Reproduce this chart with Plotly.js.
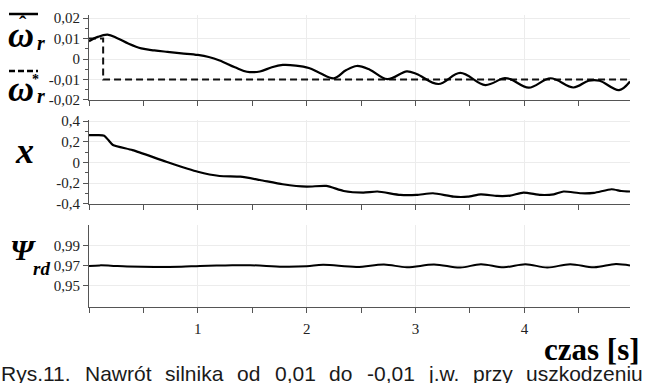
<!DOCTYPE html>
<html>
<head>
<meta charset="utf-8">
<script src="https://cdn.plot.ly/plotly-3.0.1.min.js"></script>
<style>
  html, body { margin: 0; padding: 0; background: #fff; }
  #chart { width: 645px; height: 383px; }
</style>
</head>
<body>
<div id="chart"></div>
<script>
// ---- speed: estimated (solid) and reference (dashed) ----
const tOmega = [0, 0.08, 0.17, 0.26, 0.36, 0.48, 0.6, 0.72, 0.85, 1.0, 1.1, 1.2, 1.34, 1.45, 1.57,
  1.68, 1.78, 1.9, 2.02, 2.12, 2.25, 2.36, 2.46, 2.58, 2.74, 2.92, 3.01, 3.21, 3.41, 3.64,
  3.81, 3.87, 4.04, 4.24, 4.45, 4.59, 4.69, 4.87, 4.97];
const omegaEst = [0.0087, 0.0108, 0.0119, 0.0102, 0.0076, 0.0052, 0.0042, 0.0035, 0.0028, 0.002,
  0.001, -0.0007, -0.004, -0.0062, -0.0061, -0.004, -0.0029, -0.0032, -0.0044, -0.0068, -0.0094,
  -0.0055, -0.0034, -0.0052, -0.0098, -0.006, -0.0073, -0.0122, -0.0068, -0.0127,
  -0.0094, -0.0098, -0.014, -0.0094, -0.0139, -0.0106, -0.0106, -0.0152, -0.011];
const tRef = [0, 0.13, 0.13, 4.97];
const omegaRef = [0.01, 0.01, -0.01, -0.01];

// ---- x signal ----
const tX = [0, 0.08, 0.14, 0.18, 0.22, 0.4, 0.71, 1.0, 1.2, 1.39, 1.57, 1.78, 2.0, 2.18, 2.34,
  2.52, 2.65, 2.86, 3.01, 3.16, 3.35, 3.48, 3.6, 3.75, 3.87, 3.99, 4.15, 4.27, 4.36, 4.52,
  4.64, 4.8, 4.89, 4.97];
const xVal = [0.265, 0.265, 0.26, 0.215, 0.17, 0.12, 0.008, -0.089, -0.13, -0.137, -0.169, -0.21,
  -0.233, -0.226, -0.275, -0.29, -0.28, -0.313, -0.313, -0.297, -0.33, -0.33, -0.307, -0.323,
  -0.32, -0.29, -0.313, -0.307, -0.28, -0.297, -0.293, -0.258, -0.275, -0.28];

// ---- rotor flux ----
const tPsi = [0, 0.1, 0.2, 0.35, 0.6, 0.85, 1.02, 1.25, 1.48, 1.78, 2.0, 2.15, 2.46, 2.71, 2.92,
  3.17, 3.41, 3.6, 3.81, 4.01, 4.21, 4.42, 4.64, 4.84, 4.97];
const psiVal = [0.970, 0.9706, 0.9703, 0.9695, 0.969, 0.9693, 0.970, 0.9705, 0.9708, 0.9693,
  0.9697, 0.9712, 0.969, 0.9715, 0.9687, 0.9715, 0.9684, 0.9718, 0.9687, 0.9718, 0.9684,
  0.9718, 0.9687, 0.972, 0.9705];

// ---- tick labels ----
const timeTickVals = [1, 2, 3, 4];
const timeTickText = ['1', '2', '3', '4'];
const omegaTickVals = [0.02, 0.01, 0, -0.01, -0.02];
const omegaTickText = ['0,02', '0,01', '0', '-0,01', '-0,02'];
const xTickVals = [0.4, 0.2, 0, -0.2, -0.4];
const xTickText = ['0,4', '0,2', '0', '-0,2', '-0,4'];
const psiTickVals = [0.99, 0.97, 0.95];
const psiTickText = ['0,99', '0,97', '0,95'];

const timeTitle = 'czas [s]';
const captionWords = ['Rys.11.', 'Nawrót', 'silnika', 'od', '0,01', 'do', '-0,01', 'j.w.', 'przy', 'uszkodzeniu'];

// ---- page geometry helpers (pixel -> paper) ----
const W = 645, H = 383;
const M = { l: 89, r: 15, t: 15, b: 76 };
const PW = W - M.l - M.r, PH = H - M.t - M.b;
const px = p => (p - M.l) / PW;
const py = p => (H - M.b - p) / PH;

const SERIF = 'Liberation Serif, Times New Roman, serif';
const SANS = 'Liberation Sans, Arial, sans-serif';
const AX = '#555';
const GRID = '#ececec';

function xAxis(anchor, labels) {
  return {
    anchor: anchor, range: [0, 4.97], showline: true, linecolor: AX, linewidth: 1,
    zeroline: false, showgrid: true, gridcolor: GRID,
    tickmode: 'array', tickvals: timeTickVals, ticktext: timeTickText,
    ticks: 'outside', ticklen: 5, tickcolor: AX, showticklabels: labels,
    ticklabelstandoff: 3,
    tickfont: { family: SERIF, size: 15, color: '#222' },
    minor: { tickmode: 'linear', tick0: 0, dtick: 0.5, ticks: 'outside', ticklen: 5, tickcolor: AX, showgrid: false }
  };
}
function yAxis(anchor, domain, range, vals, text, minorDtick) {
  const a = {
    anchor: anchor, domain: domain, range: range, showline: true, linecolor: AX, linewidth: 1,
    zeroline: false, showgrid: true, gridcolor: GRID,
    tickmode: 'array', tickvals: vals, ticktext: text,
    ticks: 'outside', ticklen: 5, tickcolor: AX,
    tickfont: { family: SERIF, size: 15, color: '#222' }
  };
  if (minorDtick) a.minor = { tickmode: 'linear', tick0: 0, dtick: minorDtick, ticks: 'outside', ticklen: 3, tickcolor: AX, showgrid: false };
  return a;
}

const traces = [
  { x: tRef, y: omegaRef, xaxis: 'x', yaxis: 'y', mode: 'lines',
    line: { color: '#111', width: 2, dash: '7px,4px' }, hoverinfo: 'skip' },
  { x: tOmega, y: omegaEst, xaxis: 'x', yaxis: 'y', mode: 'lines',
    line: { color: '#000', width: 2.2, shape: 'spline', smoothing: 1 } },
  { x: tX, y: xVal, xaxis: 'x2', yaxis: 'y2', mode: 'lines',
    line: { color: '#000', width: 2.2, shape: 'spline', smoothing: 0.6 } },
  { x: tPsi, y: psiVal, xaxis: 'x3', yaxis: 'y3', mode: 'lines',
    line: { color: '#000', width: 2, shape: 'spline', smoothing: 1 } }
];

// caption words spread across the full width (justified line)
const ctx = document.createElement('canvas').getContext('2d');
const capSize = 21;
ctx.font = capSize + 'px "Liberation Sans"';
const widths = captionWords.map(w => ctx.measureText(w).width);
const capLeft = 1, capRight = 643;
const gap = (capRight - capLeft - widths.reduce((a, b) => a + b, 0)) / (captionWords.length - 1);
let cursor = capLeft;
const captionAnn = captionWords.map((w, i) => {
  const a = { text: w, xref: 'paper', yref: 'paper', x: px(cursor - 2), y: py(373),
    xanchor: 'left', yanchor: 'middle', showarrow: false,
    font: { family: SANS, size: capSize, color: '#1a1a1a' } };
  cursor += widths[i] + gap;
  return a;
});

function label(text, x, y, size, extra) {
  return Object.assign({ text: text, xref: 'paper', yref: 'paper', x: px(x), y: py(y),
    xanchor: 'center', yanchor: 'middle', showarrow: false,
    font: { family: SERIF, size: size, color: '#000' } }, extra || {});
}

const annotations = [
  label('<b><i>ω</i></b>', 21, 35, 36),
  label('<b>ˆ</b>', 23, 23, 22),
  label('<b><i>r</i></b>', 41, 43, 20),
  label('<b><i>ω</i></b>', 21, 89, 36),
  label('<b>*</b>', 35, 79, 14),
  label('<b><i>r</i></b>', 41, 96, 20),
  label('<b><i>x</i></b>', 24, 151, 36),
  label('<b><i>Ψ</i></b>', 23, 249, 30),
  label('<b><i>rd</i></b>', 41, 268, 19),
  label('<b>' + timeTitle + '</b>', 642, 349, 31, { xanchor: 'right' })
].concat(captionAnn);

const shapes = [
  { type: 'line', xref: 'paper', yref: 'paper', x0: px(9), x1: px(38), y0: py(14), y1: py(14),
    line: { color: '#000', width: 2.5 } },
  { type: 'line', xref: 'paper', yref: 'paper', x0: px(9), x1: px(38), y0: py(71), y1: py(71),
    line: { color: '#000', width: 2.5, dash: '6px,3px' } }
];

const layout = {
  width: W, height: H, margin: M, showlegend: false,
  paper_bgcolor: '#fff', plot_bgcolor: '#fff',
  font: { family: SERIF, color: '#222' },
  xaxis: xAxis('y', false),
  xaxis2: xAxis('y2', false),
  xaxis3: xAxis('y3', true),
  yaxis: yAxis('x', [0.709, 1], [-0.02, 0.0215], omegaTickVals, omegaTickText, 0.005),
  yaxis2: yAxis('x2', [0.353, 0.640], [-0.4, 0.41], xTickVals, xTickText, 0.1),
  yaxis3: yAxis('x3', [0, 0.281], [0.929, 1.011], psiTickVals, psiTickText, null),
  annotations: annotations,
  shapes: shapes
};

Plotly.newPlot('chart', traces, layout, { staticPlot: true, displayModeBar: false });
</script>
</body>
</html>
